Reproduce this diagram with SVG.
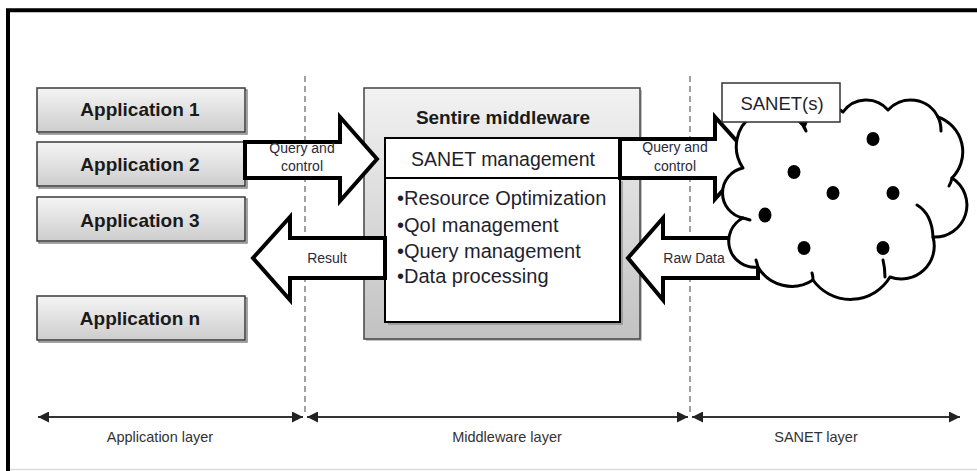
<svg xmlns="http://www.w3.org/2000/svg" width="977" height="471" viewBox="0 0 977 471">
<defs>
<linearGradient id="appGrad" x1="0" y1="0" x2="0" y2="1">
<stop offset="0" stop-color="#f5f5f5"/>
<stop offset="1" stop-color="#cdcdcd"/>
</linearGradient>
<linearGradient id="mwGrad" x1="0" y1="0" x2="0" y2="1">
<stop offset="0" stop-color="#f2f2f2"/>
<stop offset="1" stop-color="#c2c2c2"/>
</linearGradient>
<marker id="ah" viewBox="0 0 10 10" refX="10" refY="5" markerWidth="5.5" markerHeight="5.5" orient="auto-start-reverse" markerUnits="strokeWidth">
<path d="M0,0 L10,5 L0,10 Z" fill="#222"/>
</marker>
</defs>
<style>
.app rect{fill:url(#appGrad);stroke:#3a3a3a;stroke-width:1.5}
.app text{font-family:"Liberation Sans",Arial,sans-serif;font-weight:bold;font-size:19px;fill:#1a1a1a;text-anchor:middle}
.shadow{fill:#9a9a9a;opacity:0.6}
.big{fill:#fff;stroke:#000;stroke-width:4;stroke-linejoin:miter}
.lbl{font-family:"Liberation Sans",Arial,sans-serif;font-size:14px;fill:#2a2a3a;text-anchor:middle}
.body{font-family:"Liberation Sans",Arial,sans-serif;font-size:20px;fill:#1f1f2f}
.dash{stroke:#444;stroke-width:1;stroke-dasharray:6,4;fill:none}
.axis{stroke:#333;stroke-width:2;fill:none}
.layer{font-family:"Liberation Sans",Arial,sans-serif;font-size:14.5px;fill:#333;text-anchor:middle}
</style>
<rect x="0" y="0" width="977" height="471" fill="#fff"/>
<g id="frame">
<path d="M8,471 L8,10.3 L977,10.3" fill="none" stroke="#000" stroke-width="4"/>
<line x1="10" y1="469.5" x2="977" y2="469.5" stroke="#dcdcdc" stroke-width="1.5"/>
</g>
<g id="layer-dividers">
<line class="dash" x1="305" y1="76" x2="305" y2="412"/>
<line class="dash" x1="690" y1="76" x2="690" y2="412"/>
</g>
<g id="app1" class="app"><rect class="shadow" x="39" y="90" width="208" height="44"/><rect x="37" y="88" width="208" height="44"/><text x="140" y="116">Application 1</text></g>
<g id="app2" class="app"><rect class="shadow" x="39" y="144" width="208" height="44"/><rect x="37" y="142" width="208" height="44"/><text x="140" y="171">Application 2</text></g>
<g id="app3" class="app"><rect class="shadow" x="39" y="199" width="208" height="44"/><rect x="37" y="197" width="208" height="44"/><text x="140" y="227">Application 3</text></g>
<g id="appn" class="app"><rect class="shadow" x="39" y="298" width="208" height="44"/><rect x="37" y="296" width="208" height="44"/><text x="140" y="325">Application n</text></g>
<g id="middleware">
<rect x="366" y="90" width="276" height="251" fill="#8a8a8a" opacity="0.5"/>
<rect x="364" y="88" width="276" height="251" fill="url(#mwGrad)" stroke="#444" stroke-width="1.5"/>
<text x="503" y="124" style="font-family:'Liberation Sans',Arial,sans-serif;font-weight:bold;font-size:19px;fill:#1a1a1a;text-anchor:middle">Sentire middleware</text>
<rect x="388" y="181" width="235" height="144" fill="#7a7a7a" opacity="0.55"/>
<rect x="385" y="178" width="235" height="144" fill="#fff" stroke="#000" stroke-width="2"/>
<rect x="385" y="138" width="235" height="40" fill="#fff" stroke="#000" stroke-width="2"/>
<text x="503" y="166" style="font-family:'Liberation Sans',Arial,sans-serif;font-size:19.5px;fill:#1f1f2f;text-anchor:middle">SANET management</text>
<text class="body" x="397" y="205">•Resource Optimization</text>
<text class="body" x="397" y="232">•QoI management</text>
<text class="body" x="397" y="258">•Query management</text>
<text class="body" x="397" y="283">•Data processing</text>
</g>
<g id="connectors">
<g id="query-left">
<path class="big" d="M245,142 L340,142 L340,117 L377,159 L340,201 L340,178 L245,178 Z"/>
<text class="lbl" x="302" y="153">Query and</text>
<text class="lbl" x="302" y="171">control</text>
</g>
<g id="result">
<path class="big" d="M385,238 L290,238 L290,217 L253,258 L290,300 L290,278 L385,278 Z"/>
<text class="lbl" x="327" y="263">Result</text>
</g>
<g id="query-right">
<path class="big" d="M620,139 L715,139 L715,117 L752,158 L715,199 L715,178 L620,178 Z"/>
<text class="lbl" x="675" y="152">Query and</text>
<text class="lbl" x="675" y="171">control</text>
</g>
<g id="rawdata">
<path class="big" d="M758,238 L663,238 L663,218 L628,258 L663,300 L663,278 L758,278 Z"/>
<text class="lbl" x="694" y="263">Raw Data</text>
</g>
<g id="layer-axis">
<line class="axis" x1="38" y1="417" x2="303" y2="417" marker-start="url(#ah)" marker-end="url(#ah)"/>
<line class="axis" x1="307" y1="417" x2="688" y2="417" marker-start="url(#ah)" marker-end="url(#ah)"/>
<line class="axis" x1="692" y1="417" x2="960" y2="417" marker-start="url(#ah)" marker-end="url(#ah)"/>
</g>
</g>
<g id="sanet-cloud">
<path d="M743,218 A25.5,25.5 0 0 1 743,168 A37,37 0 0 1 805,125 A24,24 0 0 1 843,112 A28.5,28.5 0 0 1 888,110 A30.5,30.5 0 0 1 938,117 A37,37 0 0 1 952,178 A32,32 0 0 1 933,237 A33,33 0 0 1 890,277 A46,46 0 0 1 813,280 A39,39 0 0 1 758,267 A26,26 0 0 1 743,218 Z" fill="#fff" stroke="#000" stroke-width="3" stroke-linejoin="round"/>
<g fill="none" stroke="#000" stroke-width="3" stroke-linecap="round">
<path d="M917,205 Q932,214 933,237"/>
<path d="M799,121 Q804,125 806,131"/>
<path d="M938,117 Q941,123 941,131"/>
<path d="M952,178 Q951,183 949,186"/>
<path d="M883,260 Q885,268 885,277"/>
<path d="M813,280 Q813,276 812,273"/>
<path d="M758,267 Q757,263 756,260"/>
<path d="M743,218 Q747,219 750,220"/>
</g>
<g fill="#000">
<ellipse cx="873" cy="139" rx="6.5" ry="7"/>
<ellipse cx="794" cy="172" rx="6.5" ry="7"/>
<ellipse cx="833" cy="193" rx="6.5" ry="7"/>
<ellipse cx="893" cy="193" rx="6.5" ry="7"/>
<ellipse cx="765" cy="215" rx="6.5" ry="7.5"/>
<ellipse cx="804" cy="248" rx="6.5" ry="7"/>
<ellipse cx="883" cy="248" rx="6.5" ry="7"/>
</g>
</g>
<g id="sanet-label">
<rect x="722" y="83" width="118" height="39" fill="#fff" stroke="#333" stroke-width="1.5"/>
<text x="782" y="110" style="font-family:'Liberation Sans',Arial,sans-serif;font-size:18.5px;fill:#1f1f2f;text-anchor:middle">SANET(s)</text>
</g>
<g id="layer-labels">
<text class="layer" x="160" y="442">Application layer</text>
<text class="layer" x="507" y="442">Middleware layer</text>
<text class="layer" x="816" y="442">SANET layer</text>
</g>
</svg>
